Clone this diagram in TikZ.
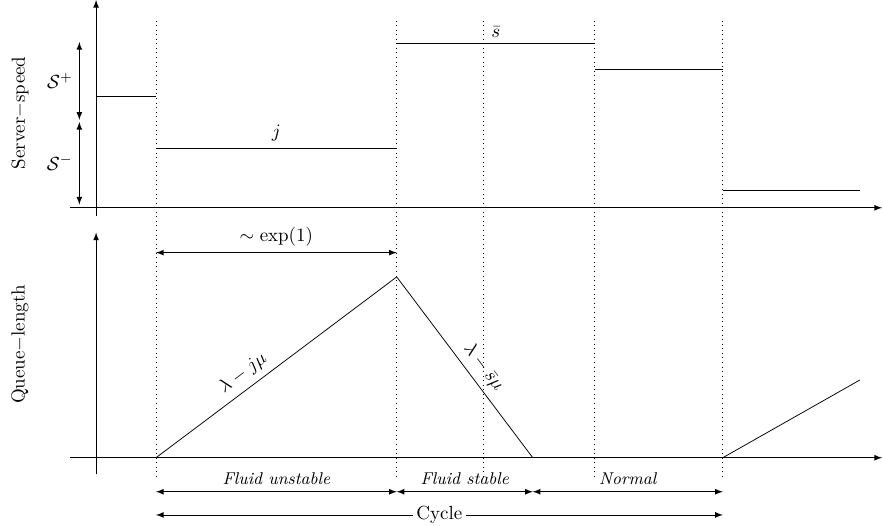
\documentclass[tikz,border=0pt]{standalone}
\usepackage{amsmath}
\begin{document}
\begin{tikzpicture}[axis/.style={-latex}, guide/.style={dotted}, span/.style={latex-latex}, phase/.style={font=\small\itshape, above}]
            \useasboundingbox (-1.78,-1.26) rectangle (14.56,8.48);

            % phase boundaries
            \foreach \name/\x in {t1/1.11, t2/5.57, t3/7.17, t4/9.24, t5/11.61}{
                \draw[guide] (\x,-0.35) -- (\x,8.15);
                \coordinate (\name) at (\x,0);
            }
            \coordinate (empty) at (8.09,0);

            % axes
            \draw[axis] (-0.48,4.63) -- (14.56,4.63);
            \draw[axis] (0,4.48) -- (0,8.48);
            \draw[axis] (-0.48,0) -- (14.56,0);
            \draw[axis] (0,-0.31) -- (0,4.17);
            \node[rotate=90] (speed) at (-1.41,6.39) {Server$-$speed};
            \node[rotate=90] (queue) at (-1.41,2.1) {Queue$-$length};

            % server speed
            \draw (0,6.70) -- (t1 |- 0,6.70);
            \draw (t1 |- 0,5.74) -- node[above] {$j$} (t2 |- 0,5.74);
            \draw (t2 |- 0,7.67) -- node[above] {$\bar{s}$} (t4 |- 0,7.67);
            \draw (t4 |- 0,7.19) -- (t5 |- 0,7.19);
            \draw (t5 |- 0,4.96) -- (14.15,4.96);
            \draw[span] (-0.31,7.70) -- node[left] {$\mathcal{S}^+$} (-0.31,6.26);
            \draw[span] (-0.31,6.22) -- node[left] {$\mathcal{S}^-$} (-0.31,4.69);

            % queue length
            \draw[span] (t1 |- 0,3.80) -- node[above] {$\sim \exp(1)$} (t2 |- 0,3.80);
            \coordinate (peak) at (5.57,3.35);
            \draw (t1) -- node[sloped, above, pos=0.4] {$\lambda - j\mu$} (peak);
            \draw (peak) -- node[sloped, above, pos=0.55] {$\lambda - \bar{s}\mu$} (empty);
            \draw (t5) -- (14.15,1.44);

            % phases
            \draw[span] (t1 |- 0,-0.63) -- node[phase] {Fluid unstable} (t2 |- 0,-0.63);
            \draw[span] (t2 |- 0,-0.63) -- node[phase] {Fluid stable} (empty |- 0,-0.63);
            \draw[span] (empty |- 0,-0.63) -- node[phase] {Normal} (t5 |- 0,-0.63);
            \draw[span] (t1 |- 0,-1.06) -- node[fill=white, inner sep=2pt] {Cycle} (t5 |- 0,-1.06);
        \end{tikzpicture}
\end{document}
